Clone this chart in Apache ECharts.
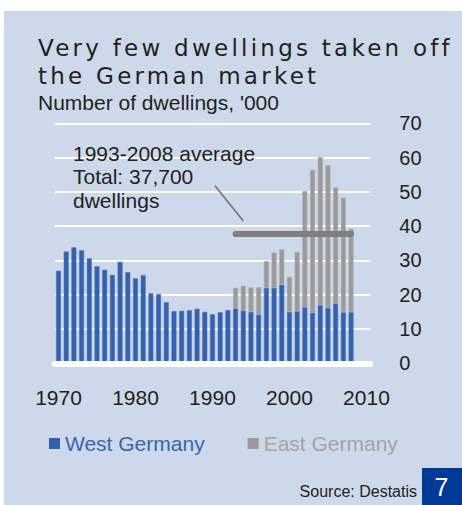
<!DOCTYPE html>
<html><head><meta charset="utf-8">
<script src="https://cdn.jsdelivr.net/npm/echarts@6/dist/echarts.min.js"></script>
<style>
html,body{margin:0;padding:0;background:#fff;}
#c{width:462px;height:505px;}
#c svg text[style*="DejaVu"]{letter-spacing:3.25px;}
</style></head><body><div id="c"></div>
<script>
const years = ['1970','1971','1972','1973','1974','1975','1976','1977','1978','1979',
  '1980','1981','1982','1983','1984','1985','1986','1987','1988','1989',
  '1990','1991','1992','1993','1994','1995','1996','1997','1998','1999',
  '2000','2001','2002','2003','2004','2005','2006','2007','2008','2009','2010'];
const westGermany = [27.0, 32.6, 33.8, 33.0, 30.6, 28.3, 27.3, 25.8, 29.6, 26.6,
  24.8, 25.7, 20.4, 20.2, 17.8, 15.2, 15.3, 15.5, 15.9, 15.0,
  14.3, 14.9, 15.5, 16.0, 15.4, 15.0, 14.2, 22.0, 22.0, 22.9,
  15.0, 15.2, 16.4, 14.8, 17.0, 16.2, 17.5, 14.9, 14.9, null, null];
const eastGermany = [null, null, null, null, null, null, null, null, null, null,
  null, null, null, null, null, null, null, null, null, null,
  null, null, null, 6.0, 7.2, 7.1, 8.0, 7.8, 10.3, 10.3,
  10.2, 17.2, 33.8, 41.6, 43.1, 41.6, 33.8, 33.4, 24.3, null, null];
const averageStart = '1993';
const averageEnd = '2008';
const averageValue = 37.7;
const yMin = 0, yMax = 70, yStep = 10;

const BLUE = '#3461ae', GRAY = '#9a9a9a', BG = '#cdd8ea';
const chart = echarts.init(document.getElementById('c'), null, {renderer: 'svg'});
chart.setOption({
  animation: false,
  backgroundColor: '#ffffff',
  title: [
    {text: 'Very few dwellings taken off\nthe German market', left: 38, top: 33.5, padding: 0,
     textStyle: {fontFamily: 'DejaVu Sans', fontSize: 23, fontWeight: 'normal', color: '#231f20', lineHeight: 28}},
    {text: "Number of dwellings, '000", left: 38, top: 92, padding: 0,
     textStyle: {fontFamily: 'Liberation Sans', fontSize: 21, fontWeight: 'normal', color: '#231f20', lineHeight: 21}}
  ],
  graphic: [
    {type: 'rect', z: -10, silent: true, shape: {x: 4, y: 11, width: 458, height: 494}, style: {fill: BG}},
    {type: 'text', left: 73, top: 141.5, z: 10, style: {text: '1993-2008 average\nTotal: 37,700\ndwellings',
      font: '21px "Liberation Sans"', fill: '#231f20', lineHeight: 23.5}},
    {type: 'line', z: 10, shape: {x1: 215, y1: 185.7, x2: 243.3, y2: 221}, style: {stroke: '#707070', lineWidth: 1.5}},
    {type: 'text', z: 10, style: {text: 'Source: Destatis', x: 417, y: 491.4, align: 'right', verticalAlign: 'middle',
      font: '16px "Liberation Sans"', fill: '#231f20'}},
    {type: 'rect', z: 10, shape: {x: 422, y: 468, width: 40, height: 37}, style: {fill: '#003a96'}},
    {type: 'text', z: 11, style: {text: '7', x: 441.5, y: 486.5, align: 'center', verticalAlign: 'middle',
      font: '25px "Liberation Sans"', fill: '#ffffff'}}
  ],
  legend: {
    left: 49, top: 433, padding: 0, itemGap: 43, itemWidth: 11, itemHeight: 11, icon: 'rect',
    itemStyle: {borderWidth: 0},
    textStyle: {fontFamily: 'Liberation Sans', fontSize: 21},
    data: [
      {name: 'West Germany', textStyle: {color: '#3b65b2'}},
      {name: 'East Germany', textStyle: {color: '#a4a4a4'}}
    ]
  },
  grid: {left: 54.65, right: 91.7, top: 123.3, bottom: 141.7, containLabel: false},
  xAxis: {
    type: 'category', data: years, z: 5,
    axisLine: {lineStyle: {color: '#ffffff', width: 6}},
    axisTick: {show: false},
    axisLabel: {interval: function (i, v) { return (+v) % 10 === 0; }, margin: 24,
      fontFamily: 'Liberation Sans', fontSize: 21, color: '#231f20'}
  },
  yAxis: {
    type: 'value', position: 'right', min: yMin, max: yMax, interval: yStep,
    axisLine: {show: false}, axisTick: {show: false},
    splitLine: {lineStyle: {color: '#ffffff', width: 2}},
    axisLabel: {align: 'left', margin: 29, fontFamily: 'Liberation Sans', fontSize: 20, color: '#231f20'}
  },
  series: [
    {name: 'West Germany', type: 'bar', stack: 'total', data: westGermany, barWidth: 5,
     itemStyle: {color: BLUE, borderColor: '#5479bb', borderWidth: 0.6}},
    {name: 'East Germany', type: 'bar', stack: 'total', data: eastGermany, barWidth: 5,
     itemStyle: {color: GRAY, borderColor: '#acacac', borderWidth: 0.6},
     markLine: {silent: true, symbol: 'none', label: {show: false}, z: 6,
       lineStyle: {color: '#7f7f7f', width: 6, type: 'solid', cap: 'round'},
       emphasis: {disabled: true},
       data: [[{coord: [averageStart, averageValue]}, {coord: [averageEnd, averageValue]}]]}}
  ]
});
</script></body></html>
